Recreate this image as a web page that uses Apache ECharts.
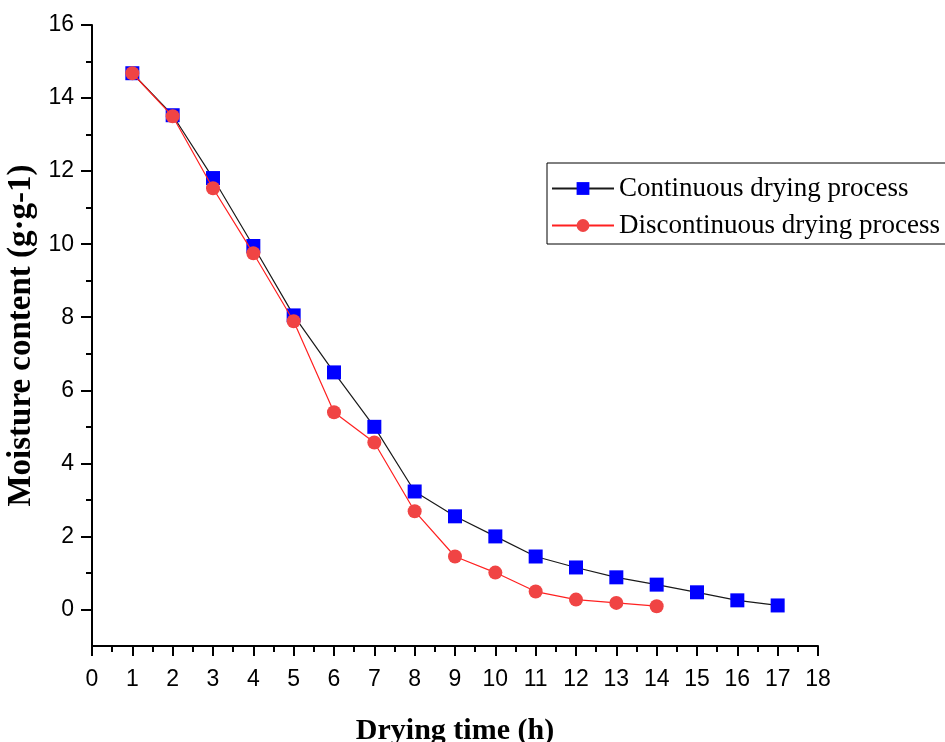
<!DOCTYPE html>
<html>
<head>
<meta charset="utf-8">
<script src="https://cdn.jsdelivr.net/npm/echarts@6/dist/echarts.min.js"></script>
<style>
  html, body { margin: 0; padding: 0; background: #fff; }
  #chart { width: 945px; height: 742px; }
</style>
</head>
<body>
<div id="chart"></div>
<script>
// Drying time in hours
const hoursContinuous = [1, 2, 3, 4, 5, 6, 7, 8, 9, 10, 11, 12, 13, 14, 15, 16, 17];
const hoursDiscontinuous = [1, 2, 3, 4, 5, 6, 7, 8, 9, 10, 11, 12, 13, 14];

// Moisture content (g·g-1)
const moistureContinuous = [14.68, 13.53, 11.81, 9.95, 8.05, 6.49, 5.0, 3.23, 2.55, 2.0, 1.45, 1.15, 0.88, 0.68, 0.47, 0.25, 0.11];
const moistureDiscontinuous = [14.68, 13.5, 11.53, 9.75, 7.89, 5.40, 4.57, 2.69, 1.45, 1.01, 0.49, 0.27, 0.18, 0.09];

// Y axis: labelled major ticks and unlabelled minor ticks
const yMajorTicks = [0, 2, 4, 6, 8, 10, 12, 14, 16];
const yMinorTicks = [1, 3, 5, 7, 9, 11, 13, 15];

const seriesNames = ['Continuous drying process', 'Discontinuous drying process'];

const toPairs = (xs, ys) => xs.map((x, i) => [x, ys[i]]);

const chart = echarts.init(document.getElementById('chart'));

const sansFont = 'Liberation Sans, Arial, sans-serif';
const serifFont = 'Liberation Serif, Times New Roman, serif';
const axisText = { fontFamily: sansFont, fontSize: 23, color: '#000' };
const blackLine = { color: '#000', width: 2 };

chart.setOption({
  animation: false,
  backgroundColor: '#fff',
  grid: { left: 92, right: 127, top: 25, bottom: 96, containLabel: false, outerBoundsMode: 'none' },
  legend: {
    left: 547,
    top: 163,
    orient: 'vertical',
    backgroundColor: '#fff',
    borderColor: '#000',
    borderWidth: 1,
    borderRadius: 0,
    padding: [12, 60, 5, 4],
    itemWidth: 62,
    itemHeight: 16,
    itemGap: 10,
    textStyle: { fontFamily: serifFont, fontSize: 27, lineHeight: 26, color: '#000' },
    data: seriesNames
  },
  xAxis: {
    type: 'value',
    min: 0,
    max: 18,
    interval: 1,
    name: 'Drying time (h)',
    nameLocation: 'middle',
    nameGap: 70,
    nameTextStyle: { fontFamily: serifFont, fontSize: 30, fontWeight: 'bold', color: '#000' },
    axisLine: { show: true, onZero: false, lineStyle: blackLine },
    axisTick: { show: true, inside: false, length: 10, lineStyle: blackLine },
    minorTick: { show: true, splitNumber: 2, length: 6, lineStyle: blackLine },
    axisLabel: Object.assign({ margin: 22 }, axisText),
    splitLine: { show: false }
  },
  yAxis: [
    {
      type: 'value',
      min: -1,
      max: 16,
      interval: 1,
      name: 'Moisture content (g·g-1)',
      nameLocation: 'middle',
      nameGap: 50,
      nameTextStyle: { fontFamily: serifFont, fontSize: 33, fontWeight: 'bold', color: '#000' },
      axisLine: { show: true, onZero: false, lineStyle: blackLine },
      axisTick: { show: true, inside: false, length: 11, customValues: yMajorTicks, lineStyle: blackLine },
      axisLabel: Object.assign({ margin: 18, customValues: yMajorTicks }, axisText),
      splitLine: { show: false }
    },
    {
      type: 'value',
      position: 'left',
      min: -1,
      max: 16,
      interval: 1,
      axisLine: { show: false },
      axisTick: { show: true, inside: false, length: 6, customValues: yMinorTicks, lineStyle: blackLine },
      axisLabel: { show: false },
      splitLine: { show: false }
    }
  ],
  series: [
    {
      name: seriesNames[0],
      type: 'line',
      data: toPairs(hoursContinuous, moistureContinuous),
      symbol: 'rect',
      symbolSize: 14,
      itemStyle: { color: '#0000ff' },
      lineStyle: { color: '#1a1a1a', width: 1.2 },
      z: 2
    },
    {
      name: seriesNames[1],
      type: 'line',
      data: toPairs(hoursDiscontinuous, moistureDiscontinuous),
      symbol: 'circle',
      symbolSize: 14,
      itemStyle: { color: '#f04444' },
      lineStyle: { color: '#ff2020', width: 1.2 },
      z: 3
    }
  ]
});
</script>
</body>
</html>
